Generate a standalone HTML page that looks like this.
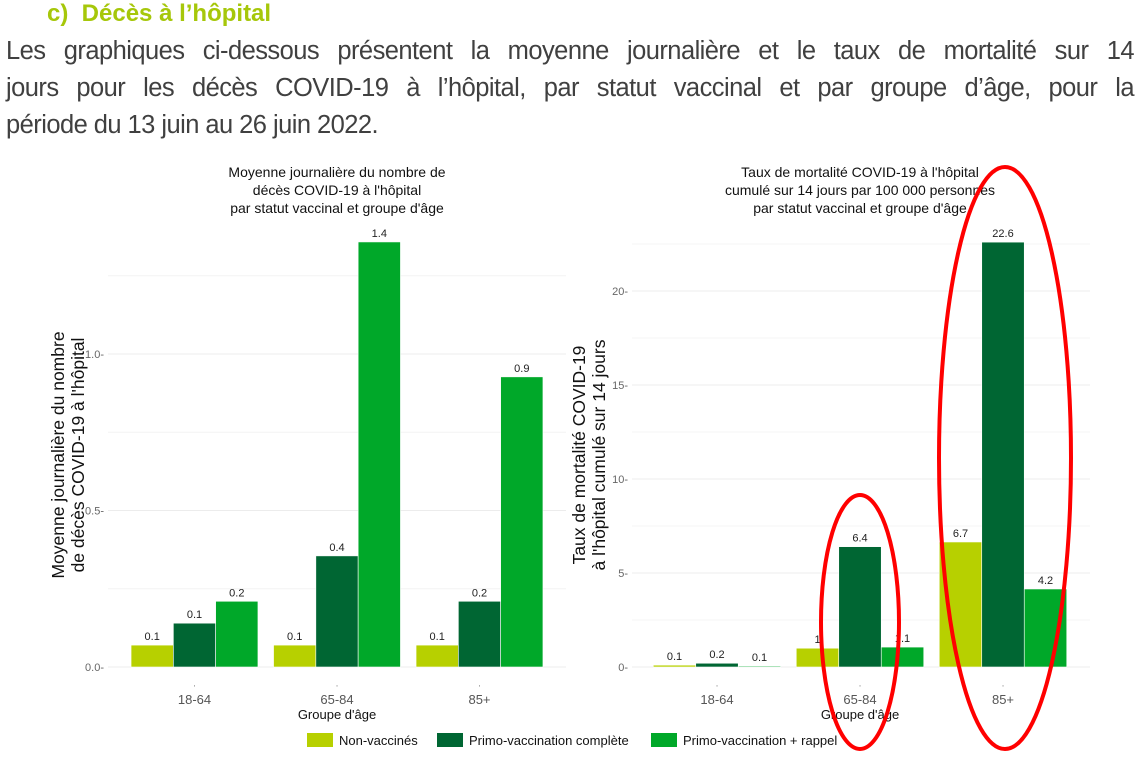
<!DOCTYPE html>
<html><head><meta charset="utf-8"><style>
body{margin:0;width:1140px;height:761px;background:#fff;overflow:hidden;position:relative;font-family:"Liberation Sans",sans-serif}
#h{position:absolute;left:47px;top:0px;font-size:24px;font-weight:bold;color:#a6c70a;margin:0}
#p{position:absolute;left:6px;top:33px;width:1128px;font-size:25.5px;letter-spacing:-0.55px;line-height:37px;color:#404040;margin:0}
#p div{text-align:justify;text-align-last:justify;white-space:nowrap}
#p div.last{text-align-last:left}
svg{position:absolute;left:0;top:0}
</style></head><body>
<h2 id="h">c)&nbsp; Décès à l’hôpital</h2>
<div id="p"><div>Les graphiques ci-dessous présentent la moyenne journalière et le taux de mortalité sur 14</div><div>jours pour les décès COVID-19 à l’hôpital, par statut vaccinal et par groupe d’âge, pour la</div><div class="last">période du 13 juin au 26 juin 2022.</div></div>
<svg id="s" width="1140" height="761" font-family="Liberation Sans, sans-serif"></svg>
<script>
const categories=["18-64","65-84","85+"];
const seriesNames=["Non-vaccinés","Primo-vaccination complète","Primo-vaccination + rappel"];
const leftNonVax=[0.07,0.07,0.07];
const leftPrimo=[0.14,0.355,0.21];
const leftRappel=[0.21,1.358,0.927];
const leftLabelsNonVax=["0.1","0.1","0.1"];
const leftLabelsPrimo=["0.1","0.4","0.2"];
const leftLabelsRappel=["0.2","1.4","0.9"];
const leftTicks=[0,0.5,1.0];
const leftTickLabels=["0.0","0.5","1.0"];
const rightNonVax=[0.1,1.0,6.65];
const rightPrimo=[0.2,6.4,22.6];
const rightRappel=[0.05,1.06,4.15];
const rightLabelsNonVax=["0.1","1","6.7"];
const rightLabelsPrimo=["0.2","6.4","22.6"];
const rightLabelsRappel=["0.1","1.1","4.2"];
const rightTicks=[0,5,10,15,20];
const rightTickLabels=["0","5","10","15","20"];
const colors=["#b7d000","#006633","#00a829"];
const NS="http://www.w3.org/2000/svg";
const svg=document.getElementById('s');
function mk(t,a,txt){const e=document.createElementNS(NS,t);for(const k in a)e.setAttribute(k,a[k]);if(txt!=null)e.textContent=txt;svg.appendChild(e);return e;}
function chart(o){
  const y=v=>o.y0-v*o.ppu;
  const x=i=>o.c0+i*o.step;
  for(let i=0;i<o.ticks.length;i++){
    const t=o.ticks[i];
    let g=mk('line',{x1:o.l,x2:o.r,y1:y(t),y2:y(t),stroke:'#ececec','stroke-width':1});
    
    const m=t+(o.ticks[1]-o.ticks[0])/2;
    if(y(m)>o.top){let g2=mk('line',{x1:o.l,x2:o.r,y1:y(m),y2:y(m),stroke:'#f4f4f4','stroke-width':1});
    }
    let tl=mk('text',{x:o.l-4,y:y(t)+4,'font-size':11,fill:'#666','text-anchor':'end'},o.tickLabels[i]+'-');
    
  }
  const sets=[[o.a,o.la],[o.b,o.lb],[o.c,o.lc]];
  for(let gi=0;gi<categories.length;gi++){
    for(let s=0;s<3;s++){
      const v=sets[s][0][gi];const bx=x(gi)+(s-1.5)*o.bw;
      let r=mk('rect',{x:bx,y:y(v),width:o.bw,height:v*o.ppu,fill:colors[s],stroke:'#fff','stroke-width':0.6});
      
      let t=mk('text',{x:bx+o.bw/2,y:y(v)-5,'font-size':11,fill:'#222','text-anchor':'middle'},sets[s][1][gi]);
      
    }
    let cl=mk('text',{x:x(gi),y:o.y0+37,'font-size':13,fill:'#555','text-anchor':'middle'},categories[gi]);
    
    let tk=mk('text',{x:x(gi),y:o.y0+24,'font-size':8,fill:'#888','text-anchor':'middle'},"'");
    
  }
  let xt=mk('text',{x:o.cx,y:o.y0+52,'font-size':13,fill:'#111','text-anchor':'middle'},"Groupe d'âge");
  
  o.title.forEach((l,i)=>{let t=mk('text',{x:o.cx,y:177+i*18,'font-size':14,fill:'#111','text-anchor':'middle'},l);
    });
  o.ytitle.forEach((l,i)=>{let t=mk('text',{x:0,y:0,'font-size':17.5,fill:'#111','text-anchor':'middle',transform:`translate(${o.yx+i*20},455) rotate(-90)`},l);
    });
}
chart({id:'left',y0:667,ppu:313,top:230,l:108,r:566,c0:194.5,step:142.5,bw:42.3,cx:337,ticks:leftTicks,tickLabels:leftTickLabels,
 a:leftNonVax,b:leftPrimo,c:leftRappel,la:leftLabelsNonVax,lb:leftLabelsPrimo,lc:leftLabelsRappel,
 title:["Moyenne journalière du nombre de","décès COVID-19 à l'hôpital","par statut vaccinal et groupe d'âge"],
 ytitle:["Moyenne journalière du nombre","de décès COVID-19 à l'hôpital"],yx:64});
chart({id:'right',y0:667,ppu:18.8,top:230,l:632,r:1090,c0:717,step:143,bw:42.5,cx:860,ticks:rightTicks,tickLabels:rightTickLabels,
 a:rightNonVax,b:rightPrimo,c:rightRappel,la:rightLabelsNonVax,lb:rightLabelsPrimo,lc:rightLabelsRappel,
 title:["Taux de mortalité COVID-19 à l'hôpital","cumulé sur 14 jours par 100 000 personnes","par statut vaccinal et groupe d'âge"],
 ytitle:["Taux de mortalité COVID-19","à l'hôpital cumulé sur 14 jours"],yx:585});
const lx=[307,437,651];
for(let s=0;s<3;s++){
  let r=mk('rect',{x:lx[s],y:733,width:26,height:14,fill:colors[s]});
  
  let t=mk('text',{x:lx[s]+32,y:745,'font-size':13,fill:'#111'},seriesNames[s]);
  
}
let e1=mk('ellipse',{cx:860,cy:622,rx:39,ry:127,fill:'none',stroke:'#f00','stroke-width':4});

let e2=mk('ellipse',{cx:1005,cy:458,rx:66,ry:291,fill:'none',stroke:'#f00','stroke-width':4});

</script>
</body></html>
